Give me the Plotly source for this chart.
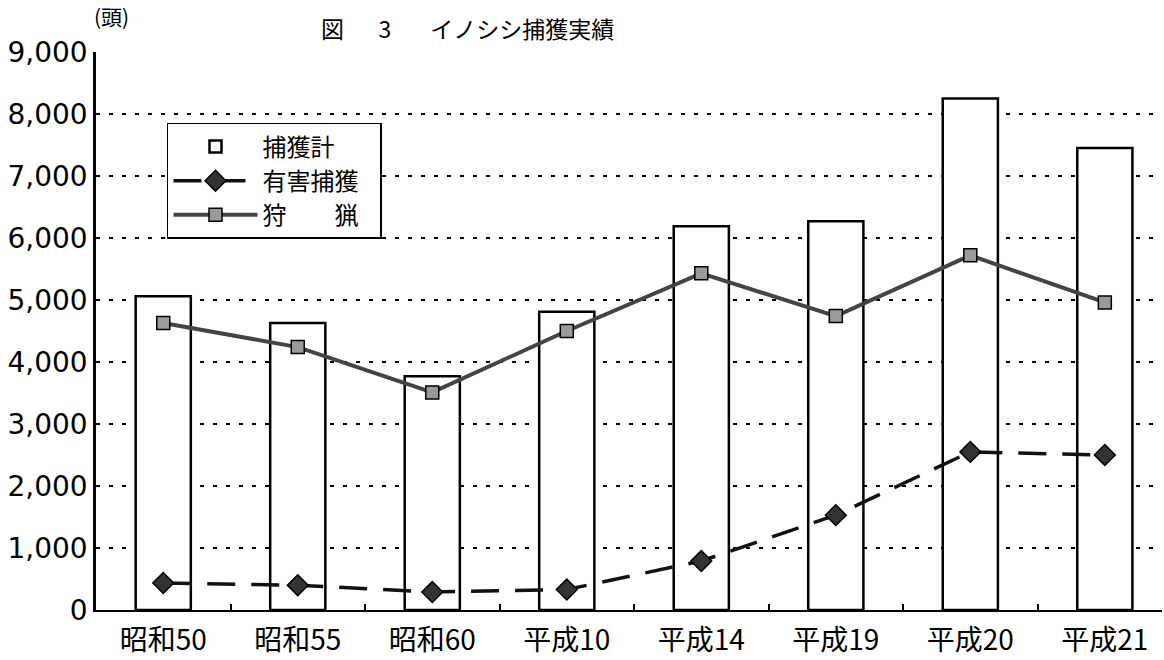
import plotly.graph_objects as go

categories = ["昭和50", "昭和55", "昭和60", "平成10", "平成14", "平成19", "平成20", "平成21"]
total_catch = [5060, 4630, 3770, 4810, 6190, 6270, 8250, 7450]
pest_control = [435, 400, 290, 330, 790, 1530, 2550, 2500]
hunting = [4630, 4240, 3510, 4500, 5430, 4740, 5720, 4960]
y_ticks = [0, 1000, 2000, 3000, 4000, 5000, 6000, 7000, 8000, 9000]
y_tick_labels = ["0", "1,000", "2,000", "3,000", "4,000", "5,000", "6,000", "7,000", "8,000", "9,000"]

NUMFONT = "DejaVu Sans, Liberation Sans"
CJK = "Noto Sans CJK JP, DejaVu Sans"

fig = go.Figure()
fig.add_trace(go.Bar(
    x=categories, y=total_catch, name="捕獲計",
    marker=dict(color="white", line=dict(color="black", width=2.5)),
    width=0.41,
))
fig.add_trace(go.Scatter(
    x=categories, y=pest_control, name="有害捕獲\u2002\u2009", mode="lines+markers",
    line=dict(color="#111111", width=3.5, dash="28px,16px"),
    marker=dict(symbol="diamond", size=16, color="#333333",
                line=dict(color="black", width=1.5)),
))
fig.add_trace(go.Scatter(
    x=categories, y=hunting, name="狩　　猟", mode="lines+markers",
    line=dict(color="#444444", width=4),
    marker=dict(symbol="square", size=13, color="#9a9a9a",
                line=dict(color="black", width=1.5)),
))

fig.update_layout(
    width=1164, height=660,
    margin=dict(l=96, r=2, t=52, b=50, autoexpand=False),
    paper_bgcolor="white", plot_bgcolor="white",
    showlegend=True,
    legend=dict(
        x=0.0666, y=0.873, xanchor="left", yanchor="top",
        bordercolor="black", borderwidth=1.5, bgcolor="white",
        font=dict(family=CJK, size=24, color="black"),
        itemwidth=84, tracegroupgap=0,
    ),
    font=dict(family=NUMFONT, color="black"),
    bargap=0.59,
    annotations=[
        dict(text="図\u3000\u20023\u3000\u2002\u2009イノシシ捕獲実績", xref="paper", yref="paper",
             x=0.209, y=1.0, xanchor="left", yanchor="bottom", yshift=5,
             showarrow=False, font=dict(family=CJK, size=23, color="black")),
        dict(text="(頭)", xref="paper", yref="paper",
             x=0.0, y=1.0, xanchor="left", yanchor="bottom", yshift=19, xshift=-4,
             showarrow=False, font=dict(family=CJK, size=21, color="black")),
    ],
)
fig.update_xaxes(
    type="category", range=[-0.5, 7.425], automargin=False,
    showline=True, linecolor="black", linewidth=2,
    ticks="inside", tickson="boundaries", ticklen=6, tickcolor="black", tickwidth=2,
    tickfont=dict(family=CJK, size=28, color="black"),
    ticklabelstandoff=4,
    showgrid=False,
)
fig.update_yaxes(
    range=[0, 9000], tickvals=y_ticks, ticktext=y_tick_labels, automargin=False,
    showline=True, linecolor="black", linewidth=2.5,
    ticks="", tickfont=dict(family=NUMFONT, size=28, color="black"),
    ticklabelstandoff=0,
    showgrid=True, gridcolor="black", gridwidth=1.5, griddash="4px,9px",
    zeroline=False,
)

fig.write_html(
    "out.html",
    config={"displayModeBar": False},
    post_script="document.body.style.margin='0px';document.body.style.overflow='hidden';",
)
